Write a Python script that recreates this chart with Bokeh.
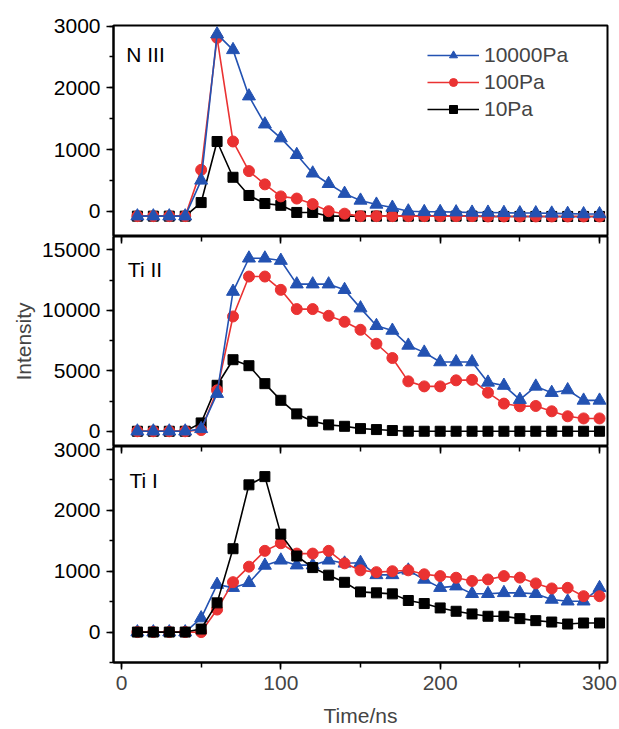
from bokeh.plotting import figure
from bokeh.layouts import column
from bokeh.models import Range1d, SingleIntervalTicker, LinearAxis, Label, Legend, LegendItem
from bokeh.embed import file_html
from bokeh.resources import INLINE

# ---------------- data ----------------
time_ns = [10, 20, 30, 40, 50, 60, 70, 80, 90, 100, 110, 120, 130, 140, 150,
           160, 170, 180, 190, 200, 210, 220, 230, 240, 250, 260, 270, 280, 290, 300]

series_names = ["10000Pa", "100Pa", "10Pa"]

n3_10000 = [-80, -80, -80, -80, 500, 2870, 2615, 1865, 1410, 1185, 915, 615, 445, 285, 175,
            110, 60, 0, -10, -10, -15, -20, -20, -25, -30, -30, -35, -40, -45, -45]
n3_100 = [-80, -80, -80, -80, 670, 2810, 1130, 650, 435, 240, 205, 115, 0, -40, -80,
          -80, -80, -80, -80, -80, -80, -80, -85, -85, -85, -85, -85, -85, -85, -85]
n3_10 = [-80, -80, -80, -80, 140, 1130, 550, 255, 125, 95, -20, -20, -80, -80, -80,
         -80, -80, -80, -80, -80, -80, -80, -85, -85, -85, -85, -85, -85, -85, -85]

ti2_10000 = [0, 0, 0, 0, 200, 3110, 11550, 14300, 14300, 14110, 12160, 12160, 12160, 11700, 10180,
             8720, 8330, 7095, 6520, 5725, 5725, 5725, 4040, 3780, 2615, 3710, 3190, 3410, 2550, 2550]
ti2_100 = [0, 0, 0, 0, 100, 3380, 9490, 12790, 12790, 11690, 10100, 10100, 9545, 9050, 8390,
           7235, 6055, 4125, 3710, 3710, 4210, 4250, 3190, 2285, 2063, 2090, 1650, 1238, 1060, 1060]
ti2_10 = [0, 0, 0, 0, 690, 3800, 5915, 5420, 3935, 2560, 1435, 825, 530, 410, 220,
          140, 60, 0, 0, 0, 0, 0, 0, 0, 0, 0, 0, 0, 0, 0]

ti1_10000 = [0, 0, 0, 0, 230, 780, 730, 810, 1095, 1180, 1100, 1100, 1180, 1130, 1140,
             940, 940, 1015, 865, 730, 755, 630, 630, 645, 645, 630, 536, 507, 507, 727]
ti1_100 = [0, 0, 0, 0, 0, 370, 820, 1075, 1335, 1460, 1290, 1290, 1335, 1130, 1015,
           985, 1000, 1015, 950, 920, 893, 840, 865, 920, 895, 800, 717, 727, 590, 590]
ti1_10 = [0, 0, 0, 0, 50, 480, 1370, 2420, 2555, 1610, 1250, 1060, 935, 818, 660,
          645, 628, 519, 469, 397, 342, 298, 260, 260, 221, 188, 165, 132, 149, 149]

panel_titles = ["N III", "Ti II", "Ti I"]

# ---------------- style ----------------
FONT = "Liberation Sans"
FS = "21px"
BLUE = "#2352B2"
RED = "#EA3232"
BLACK = "#000000"
colors = [BLUE, RED, BLACK]
markers = ["triangle", "circle", "square"]
msizes = [13, 11, 10]

xr = Range1d(-5, 305)


def make_fig(height, yrange, top_border, bottom_axis):
    p = figure(width=619, height=height, x_range=xr, y_range=Range1d(*yrange),
               output_backend="svg", toolbar_location=None,
               min_border_left=113, min_border_right=12,
               min_border_top=top_border, min_border_bottom=0,
               x_axis_location="below" if bottom_axis else None)
    p.grid.visible = False
    p.outline_line_color = "black"
    p.outline_line_width = 2
    p.background_fill_color = "white"
    p.border_fill_color = "white"
    return p


def style_y(p, interval):
    ax = p.left[0]
    ax.ticker = SingleIntervalTicker(interval=interval, num_minor_ticks=2)
    ax.axis_line_width = 2
    ax.axis_line_color = "black"
    ax.major_tick_out = 7
    ax.major_tick_in = 0
    ax.minor_tick_out = 4
    ax.minor_tick_in = 0
    ax.major_tick_line_width = 1.5
    ax.minor_tick_line_width = 1.5
    ax.major_label_text_font = FONT
    ax.major_label_text_font_size = FS
    ax.major_label_text_color = "black"
    ax.major_label_standoff = 6


def add_top_ticks(p):
    top = LinearAxis(ticker=SingleIntervalTicker(interval=100, num_minor_ticks=2),
                     major_tick_in=7, major_tick_out=0, minor_tick_in=5, minor_tick_out=0,
                     major_tick_line_width=1.5, minor_tick_line_width=1.5,
                     major_label_text_font_size="0px", major_label_text_color=None,
                     major_label_standoff=0, axis_line_color=None)
    p.add_layout(top, "above")


def draw(p, ys, order):
    rends = {}
    for i in order:
        ln = p.line(time_ns, ys[i], line_color=colors[i], line_width=1.6)
        sc = p.scatter(time_ns, ys[i], marker=markers[i], size=msizes[i],
                       fill_color=colors[i], line_color=colors[i])
        rends[i] = [ln, sc]
    return rends


# ---------------- panel N III ----------------
p1 = make_fig(236, (-410, 3010), 25, False)
style_y(p1, 1000)
r1 = draw(p1, [n3_10000, n3_100, n3_10], [2, 1, 0])
p1.add_layout(Label(x=3, y=2540, text=panel_titles[0], text_baseline="alphabetic",
                    text_font=FONT, text_font_size=FS, text_color="black"))
legend = Legend(items=[LegendItem(label=series_names[i], renderers=r1[i]) for i in range(3)],
                location=(314, 115), label_text_font=FONT, label_text_font_size=FS,
                glyph_width=52, glyph_height=20, label_height=20, spacing=3,
                padding=0, margin=0, label_standoff=5, border_line_color=None,
                background_fill_alpha=0)
p1.add_layout(legend)

# ---------------- panel Ti II ----------------
p2 = make_fig(210, (-1260, 16100), 0, False)
style_y(p2, 5000)
add_top_ticks(p2)
draw(p2, [ti2_10000, ti2_100, ti2_10], [2, 1, 0])
p2.add_layout(Label(x=4, y=13340, text=panel_titles[1], text_baseline="alphabetic",
                    text_font=FONT, text_font_size=FS, text_color="black"))
yl = p2.left[0]
yl.axis_label = "Intensity"
yl.axis_label_text_font = FONT
yl.axis_label_text_font_size = FS
yl.axis_label_text_font_style = "normal"
yl.axis_label_standoff = 4

# ---------------- panel Ti I ----------------
# overlaps the panel above by its (transparent) top border so its top tick label is not cut
p3 = make_fig(295, (-500, 3050), 12, True)
p3.margin = (-12, 0, 0, 0)
p3.border_fill_alpha = 0
style_y(p3, 1000)
add_top_ticks(p3)
draw(p3, [ti1_10000, ti1_100, ti1_10], [0, 1, 2])
p3.add_layout(Label(x=5, y=2491, text=panel_titles[2], text_baseline="alphabetic",
                    text_font=FONT, text_font_size=FS, text_color="black"))
xa = p3.below[0]
xa.ticker = SingleIntervalTicker(interval=100, num_minor_ticks=2)
xa.axis_line_width = 2
xa.major_tick_out = 7
xa.major_tick_in = 0
xa.minor_tick_out = 5
xa.minor_tick_in = 0
xa.major_tick_line_width = 1.5
xa.minor_tick_line_width = 1.5
xa.major_label_text_font = FONT
xa.major_label_text_font_size = FS
xa.major_label_standoff = 6
xa.axis_label = "Time/ns"
xa.axis_label_text_font = FONT
xa.axis_label_text_font_size = FS
xa.axis_label_text_font_style = "normal"
xa.axis_label_standoff = 11

layout = column(p1, p2, p3)
open("out.html", "w").write(file_html(layout, INLINE))
